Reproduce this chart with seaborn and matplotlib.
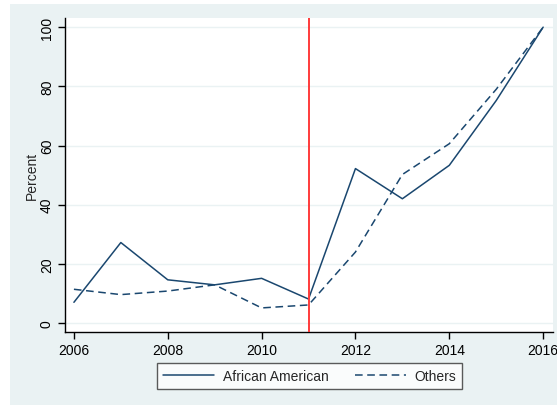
import numpy as np
import pandas as pd
import matplotlib
matplotlib.use("Agg")
import matplotlib.pyplot as plt
from matplotlib.patches import Rectangle
from matplotlib.lines import Line2D
import seaborn as sns

# Share of each group (percent) by year
years = [2006, 2007, 2008, 2009, 2010, 2011, 2012, 2013, 2014, 2015, 2016]
african_american = [7.0, 27.2, 14.6, 12.9, 15.1, 8.1, 52.2, 42.0, 53.3, 75.2, 100.0]
others = [11.4, 9.6, 10.8, 12.9, 5.1, 6.1, 24.0, 50.2, 60.6, 79.0, 100.0]
group_names = ["African American", "Others"]
x_ticks = [2006, 2008, 2010, 2012, 2014, 2016]
y_ticks = [0, 20, 40, 60, 80, 100]
cutoff_year = 2011

df = pd.DataFrame({
    "year": years * 2,
    "pct": african_american + others,
    "group": [group_names[0]] * len(years) + [group_names[1]] * len(years),
})

sns.set_style("white")
plt.rcParams["font.family"] = ["Liberation Sans", "DejaVu Sans"]

W, H = 557, 406
fig = plt.figure(figsize=(W / 100, H / 100), dpi=100, facecolor="white")

# light graph-region background, drawn beneath the axes
fig.patches.append(Rectangle((10 / W, 0), (W - 10) / W, (H - 5) / H,
                             transform=fig.transFigure, facecolor="#EAF2F3",
                             edgecolor="none", zorder=-10))

left, right, top, bottom = 65, 553, 19, 333
ax = fig.add_axes([left / W, 1 - bottom / H, (right - left) / W, (bottom - top) / H])
ax.set_zorder(1)
ax.set_facecolor("white")

navy = "#1a476f"
sns.lineplot(data=df, x="year", y="pct", style="group", color=navy,
             dashes={group_names[0]: "", group_names[1]: (5, 3)},
             linewidth=1.1, legend=False, ax=ax)

ax.axvline(cutoff_year, color="#FF3B3B", linewidth=1.4, zorder=3)

ax.set_xlim(2005.81, 2016.21)
ax.set_ylim(-3.04, 103.1)
ax.set_xticks(x_ticks)
ax.set_yticks(y_ticks)
ax.set_xticklabels([str(t) for t in x_ticks], fontsize=10)
ax.set_yticklabels([str(t) for t in y_ticks], fontsize=10, rotation=90, va="center")
ax.set_xlabel("")
ax.set_ylabel("Percent", fontsize=10, labelpad=1)

ax.grid(axis="y", color="#EAF2F3", linewidth=1.0)
ax.grid(axis="x", visible=False)
ax.set_axisbelow(True)

for s in ["top", "right"]:
    ax.spines[s].set_visible(False)
for s in ["left", "bottom"]:
    ax.spines[s].set_color("black")
    ax.spines[s].set_linewidth(1.0)
ax.tick_params(axis="both", direction="out", length=5, width=1.0,
               color="black", labelcolor="black", left=True, bottom=True, pad=3)

handles = [
    Line2D([0], [0], color=navy, linewidth=1.1),
    Line2D([0], [0], color=navy, linewidth=1.1, dashes=(5, 3)),
]
leg = fig.legend(handles, group_names, loc="center",
                 bbox_to_anchor=(309.5 / W, 1 - 377 / H), ncol=2,
                 fontsize=10, frameon=True, fancybox=False,
                 handlelength=3.7, columnspacing=1.9, handletextpad=0.6,
                 borderpad=0.45)
leg.get_frame().set_edgecolor("#333333")
leg.get_frame().set_linewidth(1.0)
leg.get_frame().set_facecolor("white")

fig.savefig("out.png", dpi=100, facecolor="white")
